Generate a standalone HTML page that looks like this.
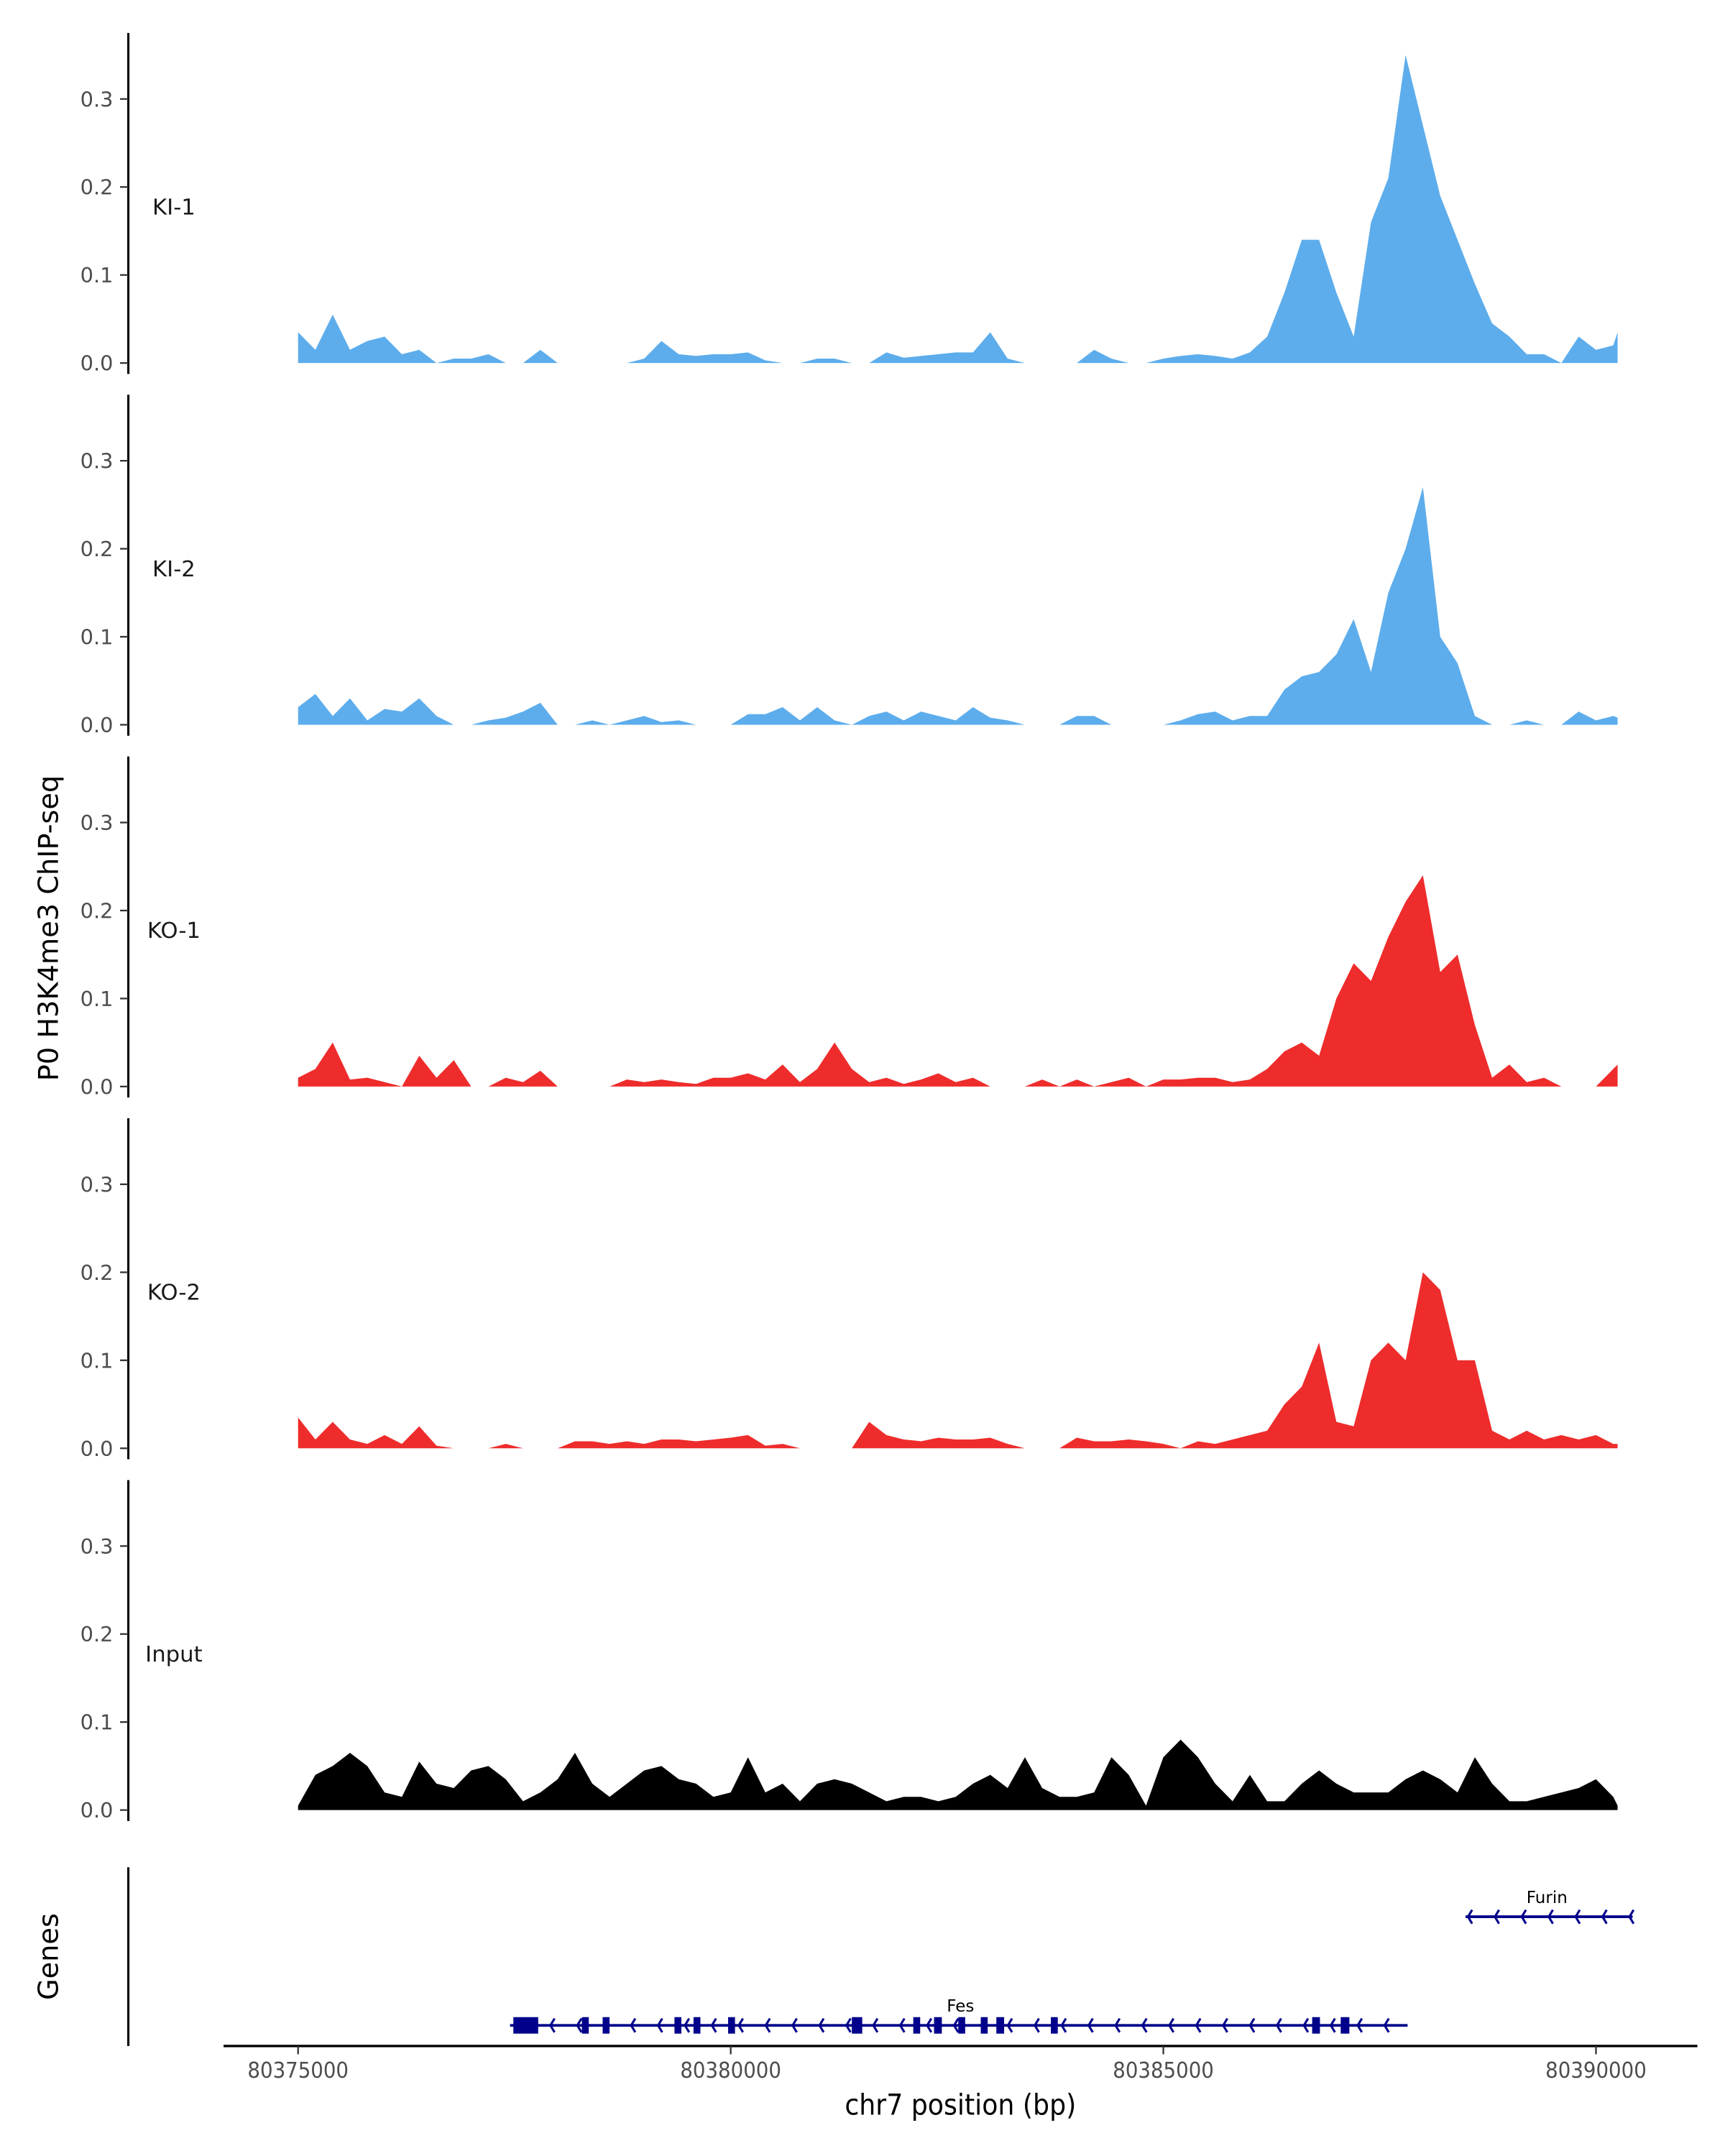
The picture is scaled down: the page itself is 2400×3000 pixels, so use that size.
<!DOCTYPE html>
<html><head><meta charset="utf-8">
<style>
html,body{margin:0;padding:0;background:#fff;}
svg{display:block;font-family:"DejaVu Sans","Liberation Sans",sans-serif;}
.cond{font-family:"DejaVu Sans Condensed","DejaVu Sans","Liberation Sans",sans-serif;}
</style></head>
<body>
<svg id="chart" width="2400" height="3000" viewBox="0 0 1250 1568" preserveAspectRatio="none" xmlns="http://www.w3.org/2000/svg">
<g id="tracks"></g>
<g id="genes"></g>
<text x="0" y="0" transform="translate(42,675) rotate(-90)" text-anchor="middle" font-size="20" fill="#000">P0 H3K4me3 ChIP-seq</text>
<text x="0" y="0" transform="translate(42,1423) rotate(-90)" text-anchor="middle" font-size="20" fill="#000">Genes</text>
<text class="cond" x="696" y="1538" text-anchor="middle" font-size="21" fill="#000">chr7 position (bp)</text>
</svg>
<script>
const trackNames = ["KI-1","KI-2","KO-1","KO-2","Input"];
const trackColors = ["#5dadec","#5dadec","#ee2c2c","#ee2c2c","#000000"];
const binStart = 80375000;
const binSize = 200;
const binEnd = 80390250;
const ki1 = [0.035,0.015,0.055,0.015,0.025,0.03,0.01,0.015,0,0.005,0.005,0.01,0,0,0.015,0,0,0,0,0,0.005,0.025,0.01,0.008,0.01,0.01,0.012,0.003,0,0,0.005,0.005,0,0,0.012,0.006,0.008,0.01,0.012,0.012,0.035,0.005,0,0,0,0,0.015,0.005,0,0,0.005,0.008,0.01,0.008,0.005,0.012,0.03,0.08,0.14,0.14,0.08,0.03,0.16,0.21,0.35,0.27,0.19,0.14,0.09,0.045,0.03,0.01,0.01,0,0.03,0.015,0.02,0.035];
const ki2 = [0.02,0.035,0.01,0.03,0.005,0.018,0.015,0.03,0.01,0,0,0.005,0.008,0.015,0.025,0,0,0.005,0,0.005,0.01,0.003,0.005,0,0,0,0.012,0.012,0.02,0.005,0.02,0.005,0,0.01,0.015,0.005,0.015,0.01,0.005,0.02,0.008,0.005,0,0,0,0.01,0.01,0,0,0,0,0.005,0.012,0.015,0.005,0.01,0.01,0.04,0.055,0.06,0.08,0.12,0.06,0.15,0.2,0.27,0.1,0.07,0.01,0,0,0.005,0,0,0.015,0.005,0.01,0.008];
const ko1 = [0.01,0.02,0.05,0.008,0.01,0.005,0,0.035,0.01,0.03,0,0,0.01,0.005,0.018,0,0,0,0,0.008,0.005,0.008,0.005,0.003,0.01,0.01,0.015,0.008,0.025,0.005,0.02,0.05,0.02,0.005,0.01,0.003,0.008,0.015,0.005,0.01,0,0,0,0.008,0,0.008,0,0.005,0.01,0,0.008,0.008,0.01,0.01,0.005,0.008,0.02,0.04,0.05,0.035,0.1,0.14,0.12,0.17,0.21,0.24,0.13,0.15,0.07,0.01,0.025,0.005,0.01,0,0,0,0.02,0.025];
const ko2 = [0.035,0.01,0.03,0.01,0.005,0.015,0.005,0.025,0.003,0,0,0,0.005,0,0,0,0.008,0.008,0.005,0.008,0.005,0.01,0.01,0.008,0.01,0.012,0.015,0.003,0.005,0,0,0,0,0.03,0.015,0.01,0.008,0.012,0.01,0.01,0.012,0.005,0,0,0,0.012,0.008,0.008,0.01,0.008,0.005,0,0.008,0.005,0.01,0.015,0.02,0.05,0.07,0.12,0.03,0.025,0.1,0.12,0.1,0.2,0.18,0.1,0.1,0.02,0.01,0.02,0.01,0.015,0.01,0.015,0.005,0.005];
const inputVals = [0.005,0.04,0.05,0.065,0.05,0.02,0.015,0.055,0.03,0.025,0.045,0.05,0.035,0.01,0.02,0.035,0.065,0.03,0.015,0.03,0.045,0.05,0.035,0.03,0.015,0.02,0.06,0.02,0.03,0.01,0.03,0.035,0.03,0.02,0.01,0.015,0.015,0.01,0.015,0.03,0.04,0.025,0.06,0.025,0.015,0.015,0.02,0.06,0.04,0.005,0.06,0.08,0.06,0.03,0.01,0.04,0.01,0.01,0.03,0.045,0.03,0.02,0.02,0.02,0.035,0.045,0.035,0.02,0.06,0.03,0.01,0.01,0.015,0.02,0.025,0.035,0.015,0.005];
const trackValues = [ki1, ki2, ko1, ko2, inputVals];
const yTicks = [0, 0.1, 0.2, 0.3];
const yTickLabels = ["0.0","0.1","0.2","0.3"];
const xTicks = [80375000, 80380000, 80385000, 80390000];
const xTickLabels = ["80375000","80380000","80385000","80390000"];
const fesExons = [[80377488,80377775],[80378280,80378340],[80378520,80378590],[80379350,80379420],[80379570,80379640],[80379970,80380040],[80381400,80381520],[80382110,80382170],[80382350,80382440],[80382630,80382700],[80382890,80382950],[80383070,80383160],[80383700,80383780],[80386720,80386810],[80387050,80387150]];
const fesStart = 80377450, fesEnd = 80387823;
const furinStart = 80388493, furinEnd = 80390423;

const NS = "http://www.w3.org/2000/svg";
function xs(bp){ return 216 + (bp - 80375000) * 313.5 / 5000; }
function ys(v, zero){ return zero - v * 640; }
function mk(tag, attrs, parent){ const e = document.createElementNS(NS, tag); for (const k in attrs) e.setAttribute(k, attrs[k]); parent.appendChild(e); return e; }

const tracksG = document.getElementById('tracks');
trackNames.forEach((name, t) => {
  const zero = 264 + t * 263.1;
  const g = mk('g', {}, tracksG);
  
  
  const ax = mk('line', {x1:93, x2:93, y1:zero-240, y2:zero+8, stroke:'#000', 'stroke-width':1.6}, g);
  
  
  yTicks.forEach((v, i) => {
    const yy = ys(v, zero);
    const tk = mk('line', {x1:87, x2:93, y1:yy, y2:yy, stroke:'#333', 'stroke-width':1.2}, g);
    
    
    const tl = mk('text', {x:82, y:yy+5.5, 'text-anchor':'end', 'font-size':15, fill:'#4d4d4d'}, g);
    tl.textContent = yTickLabels[i];
    
    
  });
  const lab = mk('text', {x:126, y:zero-108, 'text-anchor':'middle', 'font-size':16, fill:'#1a1a1a'}, g);
  lab.textContent = name;
  
  
  const vals = trackValues[t];
  let d = 'M' + xs(binStart) + ',' + zero;
  vals.forEach((v, i) => {
    const bp = i < vals.length - 1 ? binStart + i * binSize : binEnd;
    d += ' L' + xs(bp).toFixed(2) + ',' + ys(v, zero).toFixed(2);
  });
  d += ' L' + xs(binEnd).toFixed(2) + ',' + zero + ' Z';
  const area = mk('path', {d:d, fill:trackColors[t], stroke:'none'}, g);
  
  
});

const gg = document.getElementById('genes');
const gax = mk('line', {x1:93, x2:93, y1:1358, y2:1488, stroke:'#000', 'stroke-width':1.6}, gg);


const xax = mk('line', {x1:162, x2:1230, y1:1488, y2:1488, stroke:'#000', 'stroke-width':1.8}, gg);


xTicks.forEach((bp, i) => {
  const tk = mk('line', {x1:xs(bp), x2:xs(bp), y1:1488, y2:1494, stroke:'#333', 'stroke-width':1.2}, gg);
  
  
  const tl = mk('text', {x:xs(bp), y:1511, 'text-anchor':'middle', 'font-size':16, fill:'#4d4d4d', 'class':'cond'}, gg);
  tl.textContent = xTickLabels[i];
  
  
});
function arrows(x1, x2, y, step, parent){
  for (let x = x1 + step/2; x < x2 - 4; x += step) {
    const a = mk('path', {d:'M'+(x+3)+','+(y-5)+' L'+x+','+y+' L'+(x+3)+','+(y+5), fill:'none', stroke:'#00008b', 'stroke-width':1.6}, parent);
    
    
  }
}
const fesG = mk('g', {}, gg);


const fl = mk('line', {x1:xs(fesStart), x2:xs(fesEnd), y1:1473, y2:1473, stroke:'#00008b', 'stroke-width':2}, fesG);


arrows(xs(fesStart), xs(fesEnd), 1473, 19.5, fesG);
fesExons.forEach(e => {
  const w = Math.max(xs(e[1]) - xs(e[0]), 5);
  const r = mk('rect', {x:xs(e[0]), y:1467, width:w, height:12, fill:'#00008b'}, fesG);
  
  
});
const fesTxt = mk('text', {x:696, y:1463, 'text-anchor':'middle', 'font-size':12, fill:'#000'}, fesG);
fesTxt.textContent = 'Fes';


const furG = mk('g', {}, gg);


const ul = mk('line', {x1:xs(furinStart), x2:xs(furinEnd), y1:1394, y2:1394, stroke:'#00008b', 'stroke-width':2}, furG);


arrows(xs(furinStart) - 8, xs(furinEnd) + 8, 1394, 19.5, furG);
const furTxt = mk('text', {x:1121, y:1384, 'text-anchor':'middle', 'font-size':12, fill:'#000'}, furG);
furTxt.textContent = 'Furin';


</script>
</body></html>
